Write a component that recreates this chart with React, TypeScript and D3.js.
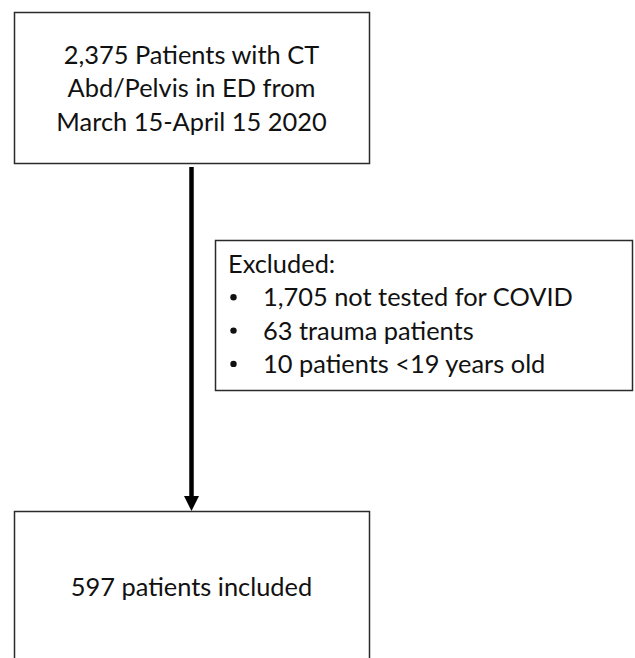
import { useEffect, useRef } from "react";
import * as d3 from "d3";

const W = 635;
const H = 658;

// flow content
const topLines = ["2,375 Patients with CT", "Abd/Pelvis in ED from", "March 15-April 15 2020"];
const excludeTitle = "Excluded:";
const excludeItems = ["1,705 not tested for COVID", "63 trauma patients", "10 patients <19 years old"];
const bottomLines = ["597 patients included"];

const FONT = "Lato, 'Open Sans', sans-serif";
const FS = 25.4;
const STROKE = "#2b2b2b";

export default function App() {
  const svgRef = useRef<SVGSVGElement>(null);

  useEffect(() => {
    document.body.style.margin = "0";
    if (!svgRef.current) return;
    const svg = d3.select(svgRef.current);
    svg.selectAll("*").remove();

    svg.append("rect").attr("width", W).attr("height", H).attr("fill", "#fff");

    const box = (x: number, y: number, w: number, h: number) =>
      svg
        .append("rect")
        .attr("x", x)
        .attr("y", y)
        .attr("width", w)
        .attr("height", h)
        .attr("fill", "#fff")
        .attr("stroke", STROKE)
        .attr("stroke-width", 1.5);

    // top box
    box(14.5, 12.5, 355, 151);
    const lineY = d3.scaleLinear().domain([0, 1]).range([63.5, 97]);
    svg
      .append("g")
      .selectAll("text")
      .data(topLines)
      .join("text")
      .attr("x", 191.5)
      .attr("y", (_, i) => lineY(i))
      .attr("text-anchor", "middle")
      .attr("font-family", FONT)
      .attr("font-size", FS)
      .attr("fill", "#111")
      .text((d) => d);

    // arrow
    svg
      .append("line")
      .attr("x1", 191.5)
      .attr("x2", 191.5)
      .attr("y1", 167)
      .attr("y2", 498)
      .attr("stroke", "#000")
      .attr("stroke-width", 4.5);
    svg
      .append("path")
      .attr("d", d3.line()([[184, 496], [199, 496], [191.5, 511]]) + "Z")
      .attr("fill", "#000");

    // exclusion box
    box(215.5, 240.5, 417, 150);
    const exY = d3.scaleLinear().domain([0, 1]).range([273, 306.3]);
    svg
      .append("text")
      .attr("x", 228)
      .attr("y", exY(0))
      .attr("font-family", FONT)
      .attr("font-size", FS)
      .attr("fill", "#111")
      .text(excludeTitle);
    const items = svg
      .append("g")
      .selectAll("g")
      .data(excludeItems)
      .join("g")
      .attr("transform", (_, i) => `translate(0,${exY(i + 1)})`);
    items
      .append("circle")
      .attr("cx", 233.5)
      .attr("cy", -9)
      .attr("r", 3.2)
      .attr("fill", "#111");
    items
      .append("text")
      .attr("x", 263)
      .attr("font-family", FONT)
      .attr("font-size", FS)
      .attr("fill", "#111")
      .text((d) => d);

    // bottom box (runs past the frame)
    box(14.5, 511.5, 355, 170);
    svg
      .append("g")
      .selectAll("text")
      .data(bottomLines)
      .join("text")
      .attr("x", 191.5)
      .attr("y", 596)
      .attr("text-anchor", "middle")
      .attr("font-family", FONT)
      .attr("font-size", FS)
      .attr("fill", "#111")
      .text((d) => d);
  }, []);

  return <svg ref={svgRef} width={W} height={H} style={{ display: "block" }} />;
}
